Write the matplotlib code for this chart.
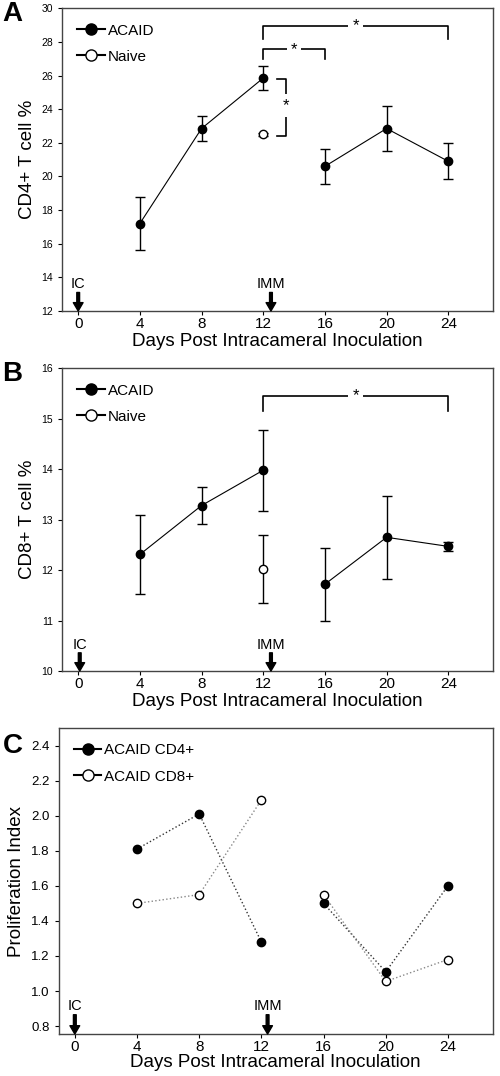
import numpy as np
import matplotlib.pyplot as plt

plt.rcParams['font.family'] = ['Liberation Sans', 'DejaVu Sans']

# --- data ---
days_a = [4, 8, 12]
days_b = [16, 20, 24]

cd4_acaid = [17.2, 22.85, 25.85, 20.6, 22.85, 20.9]
cd4_acaid_err = [1.6, 0.72, 0.72, 1.05, 1.33, 1.07]
cd4_naive = [22.5]
cd4_naive_err = [0.1]

cd8_acaid = [12.31, 13.28, 13.98, 11.72, 12.65, 12.47]
cd8_acaid_err = [0.78, 0.37, 0.8, 0.72, 0.82, 0.09]
cd8_naive = [12.02]
cd8_naive_err = [0.68]

pi_cd4 = [1.81, 2.01, 1.28, 1.50, 1.11, 1.60]
pi_cd8 = [1.50, 1.55, 2.09, 1.55, 1.055, 1.18]

naive_day = [12]
xticks = [0, 4, 8, 12, 16, 20, 24]

fig = plt.figure(figsize=(5, 10.76), dpi=100)
axA = fig.add_axes([0.124, 0.711, 0.862, 0.2813])
axB = fig.add_axes([0.124, 0.3764, 0.862, 0.2813])
axC = fig.add_axes([0.117, 0.039, 0.869, 0.2844])


def style(ax, ylim, yticks, ylabel, ytick_fs=7.5):
    ax.set_xlim(-1.05, 26.9)
    ax.set_ylim(*ylim)
    ax.set_xticks(xticks)
    ax.set_yticks(yticks)
    ax.tick_params(axis='y', labelsize=ytick_fs, direction='out', length=3, width=0.8)
    ax.tick_params(axis='x', labelsize=11, direction='out', length=3, width=0.8, pad=1)
    ax.set_xlabel("Days Post Intracameral Inoculation", fontsize=13.5, labelpad=2)
    ax.set_ylabel(ylabel, fontsize=13.5, labelpad=4)
    for s in ax.spines.values():
        s.set_color('#444444')
        s.set_linewidth(1.0)


def arrows(ax, x_ic, x_imm, y_bot, y_top, y_txt):
    for x, lab in [(x_ic, "IC"), (x_imm, "IMM")]:
        ax.annotate('', xy=(x, y_bot), xytext=(x, y_top),
                    arrowprops=dict(facecolor='black', edgecolor='black',
                                    width=2, headwidth=7, headlength=6, shrink=0))
        ax.text(x, y_txt, lab, ha='center', va='center', fontsize=10.5)


def bracket(ax, x0, x1, y, drop):
    ax.plot([x0, x0, x1, x1], [y - drop, y, y, y - drop], color='black', lw=1.2)
    ax.text((x0 + x1) / 2, y, '*', ha='center', va='center', fontsize=12,
            bbox=dict(facecolor='white', edgecolor='none', pad=3))


def legend(ax, labels):
    h1 = plt.Line2D([], [], color='black', marker='o', ms=8, lw=1.5)
    h2 = plt.Line2D([], [], color='black', marker='o', mfc='white', ms=8, lw=1.5)
    ax.legend([h1, h2], labels, loc='upper left', frameon=False,
              fontsize=11, handlelength=1.8, handletextpad=0.2, labelspacing=0.8,
              borderaxespad=0.6)


def panel(ax, acaid, acaid_err, naive, naive_err):
    ax.plot(days_a, acaid[:3], color='black', lw=0.8)
    ax.plot(days_b, acaid[3:], color='black', lw=0.8)
    ax.errorbar(days_a + days_b, acaid, yerr=acaid_err, fmt='o', color='black',
                ms=6, capsize=3.5, elinewidth=1, capthick=1)
    ax.errorbar(naive_day, naive, yerr=naive_err, fmt='o', color='black',
                mfc='white', ms=6, capsize=3.5, elinewidth=1, capthick=1)
    legend(ax, ['ACAID', 'Naive'])


# --- Panel A ---
panel(axA, cd4_acaid, cd4_acaid_err, cd4_naive, cd4_naive_err)
style(axA, (12, 30), np.arange(12, 31, 2), "CD4+ T cell %")
bracket(axA, 12, 24, 28.95, 0.8)
bracket(axA, 12, 16, 27.55, 0.55)
axA.plot([12.9, 13.5, 13.5, 12.9], [25.8, 25.8, 22.4, 22.4], color='black', lw=1.2)
axA.text(13.5, 24.2, '*', ha='center', va='center', fontsize=12,
         bbox=dict(facecolor='white', edgecolor='none', pad=3))
arrows(axA, 0, 12.5, 12.0, 13.1, 13.6)

# --- Panel B ---
panel(axB, cd8_acaid, cd8_acaid_err, cd8_naive, cd8_naive_err)
style(axB, (10, 16), np.arange(10, 17, 1), "CD8+ T cell %")
bracket(axB, 12, 24, 15.46, 0.3)
arrows(axB, 0.1, 12.5, 10.0, 10.36, 10.52)

# --- Panel C ---
axC.plot(days_a, pi_cd4[:3], color='#333333', ls=':', lw=1)
axC.plot(days_b, pi_cd4[3:], color='#333333', ls=':', lw=1)
axC.plot(days_a, pi_cd8[:3], color='#888888', ls=':', lw=1)
axC.plot(days_b, pi_cd8[3:], color='#888888', ls=':', lw=1)
axC.plot(days_a + days_b, pi_cd4, 'o', color='black', ms=6)
axC.plot(days_a + days_b, pi_cd8, 'o', color='black', mfc='white', ms=6)
legend(axC, ['ACAID CD4+', 'ACAID CD8+'])
style(axC, (0.755, 2.5), np.arange(0.8, 2.41, 0.2), "Proliferation Index", ytick_fs=9.5)
axC.set_yticklabels([f"{v:.1f}" for v in np.arange(0.8, 2.41, 0.2)])
axC.xaxis.labelpad = 0
arrows(axC, 0, 12.4, 0.755, 0.865, 0.915)

# panel letters
fig.text(0.005, 0.987, 'A', fontsize=20, fontweight='bold', va='center')
fig.text(0.005, 0.652, 'B', fontsize=20, fontweight='bold', va='center')
fig.text(0.005, 0.307, 'C', fontsize=20, fontweight='bold', va='center')

fig.savefig('out.png', dpi=100)
